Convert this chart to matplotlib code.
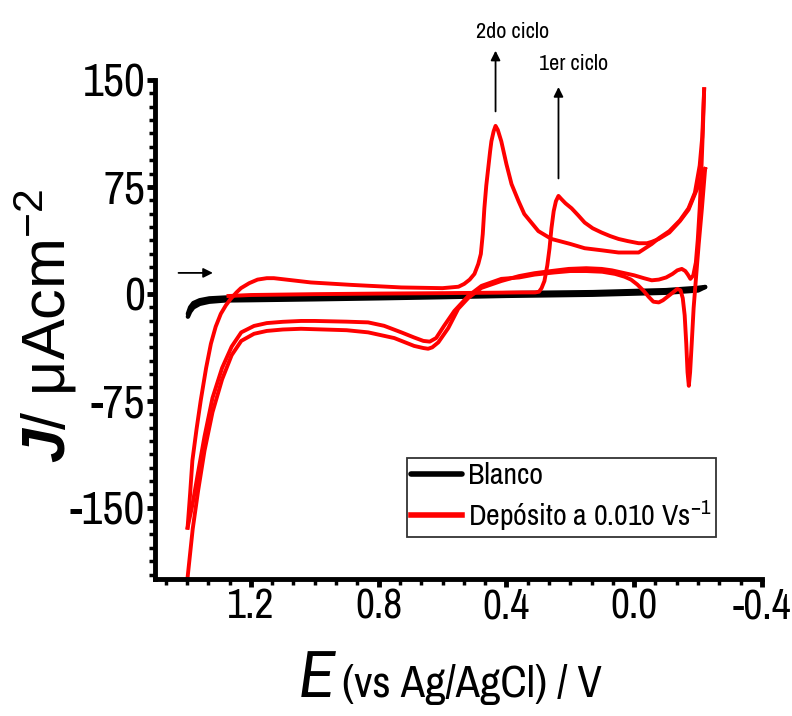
import matplotlib
matplotlib.use("Agg")
import matplotlib.pyplot as plt
from matplotlib.ticker import MultipleLocator, AutoMinorLocator

# ---- data (E in V vs Ag/AgCl, J in uA cm^-2) ----
blank_E = [1.397, 1.39, 1.38, 1.36, 1.33, 1.28, 1.2, 1.0, 0.8, 0.6, 0.4, 0.13, -0.1, -0.2, -0.222]
blank_fwd_J = [-14, -9.5, -6.5, -4.5, -3.2, -2.6, -2.6, -2.0, -1.3, -0.4, 0.5, 1.2, 2.6, 4.2, 4.8]
blank_rev_J = [-16, -12.5, -9.5, -7.0, -5.5, -4.6, -4.4, -3.8, -3.1, -2.3, -1.4, -0.6, 0.8, 2.4, 4.8]

# 1st cycle, forward scan (peak "1er ciclo")
c1_fwd_E = [1.27, 1.2, 1.0, 0.8, 0.6, 0.45, 0.35, 0.31, 0.298, 0.29, 0.281, 0.272, 0.265,
            0.259, 0.252, 0.245, 0.237, 0.228, 0.215, 0.196, 0.175, 0.155, 0.13, 0.102,
            0.075, 0.049, 0.02, -0.014, -0.04, -0.055, -0.077, -0.11, -0.143, -0.17,
            -0.19, -0.205, -0.215, -0.222]
c1_fwd_J = [-1.5, -0.8, -0.2, 0.2, 0.5, 0.8, 1.0, 1.0, 1.5, 4, 9, 20, 32,
            46, 58, 65, 68.7, 66.5, 63.5, 60, 55, 50, 46, 43,
            40.5, 38.5, 37, 35.5, 35.5, 36.5, 38.5, 43, 51, 59,
            70, 78, 84, 87.6]

# 1st cycle, reverse scan
c1_rev_E = [-0.222, -0.212, -0.202, -0.193, -0.186, -0.18, -0.175, -0.171, -0.167, -0.163,
            -0.158, -0.152, -0.145, -0.135, -0.127, -0.11, -0.09, -0.077, -0.06, -0.045,
            -0.03, -0.01, 0.01, 0.03, 0.06, 0.1, 0.15, 0.2, 0.25, 0.312, 0.36, 0.416,
            0.478, 0.519, 0.563, 0.595, 0.62, 0.64, 0.66, 0.69, 0.729, 0.783, 0.833, 0.9,
            1.0, 1.043, 1.1, 1.15, 1.19, 1.23, 1.26, 1.29, 1.32, 1.345, 1.365, 1.382, 1.398]
c1_rev_J = [87.6, 60, 35, 10, -10, -35, -55, -64.5, -55, -35,
            -15, -3, 2.5, 3.5, 2, -1, -4.5, -6, -5.5, -2,
            2, 6.5, 10, 12, 14, 15.5, 16, 16, 15, 13.5, 11.5, 10.5,
            5.6, -1.4, -12, -22.4, -31, -33.5, -33, -30.5, -27, -22.4, -20, -19.5,
            -19, -19, -19.6, -20.5, -22.5, -27, -37, -52, -73, -100, -125, -147, -164]

# 2nd cycle, forward scan (peak "2do ciclo")
c2_fwd_E = [1.398, 1.39, 1.383, 1.37, 1.357, 1.34, 1.325, 1.31, 1.294, 1.278, 1.263, 1.245,
            1.231, 1.205, 1.179, 1.15, 1.128, 1.07, 1.012, 0.886, 0.729, 0.6, 0.55, 0.532,
            0.515, 0.5, 0.488, 0.48, 0.474, 0.469, 0.463, 0.457, 0.451, 0.447, 0.44, 0.434,
            0.427, 0.416, 0.4, 0.384, 0.362, 0.344, 0.3, 0.259, 0.2, 0.155, 0.1, 0.049,
            -0.014, -0.055, -0.077, -0.11, -0.143, -0.17, -0.19, -0.205, -0.213, -0.219]
c2_fwd_J = [-164, -140, -117, -95, -75, -52, -35, -23, -14, -8, -3.5, 1,
            4, 7.5, 10, 11, 11, 9.5, 8, 6.3, 4.5, 4, 5, 7,
            10, 14, 21, 28, 42, 60, 76, 88, 100, 107, 114, 117.8,
            115, 107, 91, 77, 65, 56, 44, 38.5, 35, 32, 30.5, 29,
            29, 35, 39, 44, 51.5, 60, 71, 90, 110, 143.5]

# 2nd cycle, reverse scan
c2_rev_E = [-0.219, -0.215, -0.21, -0.205, -0.199, -0.193, -0.185, -0.176, -0.168, -0.16,
            -0.149, -0.135, -0.12, -0.1, -0.077, -0.055, -0.03, 0.0, 0.03, 0.07, 0.102,
            0.15, 0.205, 0.26, 0.312, 0.36, 0.416, 0.478, 0.519, 0.551, 0.582, 0.613,
            0.632, 0.645, 0.66, 0.689, 0.751, 0.833, 0.9, 1.0, 1.043, 1.1, 1.15, 1.19,
            1.23, 1.26, 1.29, 1.32, 1.345, 1.365, 1.382, 1.398]
c2_rev_J = [143.5, 115, 85, 60, 38, 22, 13, 10.5, 13.5, 16,
            17.5, 16.5, 14, 11.5, 10, 9.5, 11, 13, 14.5, 16.5, 17.5,
            18, 17.5, 16, 14.5, 12.5, 9, 4.2, -2.8, -10.5, -24, -34,
            -37.5, -38.5, -38, -36.5, -31, -27, -25.5, -24.8, -24.5, -25, -26, -28,
            -33, -43, -60, -83, -110, -138, -165, -199]

y_ticks = [-150, -75, 0, 75, 150]
x_ticks = [1.2, 0.8, 0.4, 0.0, -0.4]

NARROW = ['Liberation Sans Narrow', 'Archivo Narrow', 'Liberation Sans', 'DejaVu Sans']
plt.rcParams['font.family'] = NARROW
plt.rcParams['axes.unicode_minus'] = False
plt.rcParams['mathtext.fontset'] = 'custom'
plt.rcParams['mathtext.rm'] = 'Liberation Sans'
plt.rcParams['mathtext.it'] = 'Liberation Sans:italic'
plt.rcParams['mathtext.bf'] = 'Liberation Sans:bold'
plt.rcParams['mathtext.bfit'] = 'Liberation Sans:italic:bold'

fig = plt.figure(figsize=(7.92, 7.16), dpi=100)
ax = fig.add_axes([0.1957, 0.1913, 0.7664, 0.697])

red = '#ff0000'
lw_red = 2.8
ax.plot(blank_E, blank_fwd_J, color='black', lw=3.2, solid_capstyle='round', label='Blanco')
ax.plot(blank_E, blank_rev_J, color='black', lw=3.2, solid_capstyle='round')
ax.plot(c1_fwd_E, c1_fwd_J, color=red, lw=lw_red, label='Depósito a 0.010 Vs$^{\\mathregular{-1}}$')
ax.plot(c1_rev_E, c1_rev_J, color=red, lw=lw_red)
ax.plot(c2_fwd_E, c2_fwd_J, color=red, lw=lw_red)
ax.plot(c2_rev_E, c2_rev_J, color=red, lw=lw_red)

ax.set_xlim(1.5, -0.4)
ax.set_ylim(-200, 150)
ax.set_xticks(x_ticks)
ax.set_xticklabels([f"{v:.1f}" for v in x_ticks])
ax.set_yticks(y_ticks)
ax.xaxis.set_minor_locator(AutoMinorLocator(6))
ax.yaxis.set_minor_locator(MultipleLocator(75 / 8))

for side in ['top', 'right']:
    ax.spines[side].set_visible(False)
for side in ['left', 'bottom']:
    ax.spines[side].set_linewidth(3.5)

ax.tick_params(axis='both', which='major', direction='out', length=6, width=3.5)
ax.tick_params(axis='both', which='minor', direction='out', length=4, width=2.5)
ax.tick_params(axis='y', which='major', pad=1, labelsize=33)
ax.tick_params(axis='x', which='major', pad=0, labelsize=30)

# annotations
arrow_kw = dict(arrowstyle='-|>', color='black', lw=1.3, mutation_scale=14)
ax.annotate('', xy=(1.31, 14.7), xytext=(1.435, 14.7), arrowprops=arrow_kw, annotation_clip=False)
ax.annotate('', xy=(0.434, 172.5), xytext=(0.434, 126), arrowprops=arrow_kw, annotation_clip=False)
ax.annotate('', xy=(0.237, 147), xytext=(0.237, 79), arrowprops=arrow_kw, annotation_clip=False)
ax.text(0.381, 183.7, '2do ciclo', ha='center', va='center', fontsize=16, clip_on=False)
ax.text(0.19, 161, '1er ciclo', ha='center', va='center', fontsize=16, clip_on=False)

leg = ax.legend(loc='lower left', bbox_to_anchor=(0.415, 0.084), borderaxespad=0,
                fontsize=21.5, frameon=True, fancybox=False, edgecolor='black',
                handlelength=1.7, handletextpad=0.2, labelspacing=0.3, borderpad=0.15)
leg.get_frame().set_linewidth(1.3)
for line in leg.get_lines():
    line.set_linewidth(4)

# axis titles
fig.text(335 / 792, 1 - 697 / 716, 'E', style='italic', fontsize=48,
         ha='right', va='baseline')
fig.text(342 / 792, 1 - 697 / 716, '(vs Ag/AgCl) / V', fontsize=32,
         ha='left', va='baseline')
fig.text(0.057, 0.545, r'$\mathbfit{J}$/ μAcm$^{-2}$', rotation=90, fontsize=44,
         family=['Liberation Sans', 'DejaVu Sans'], ha='center', va='center')

fig.savefig('out.png', dpi=100)
